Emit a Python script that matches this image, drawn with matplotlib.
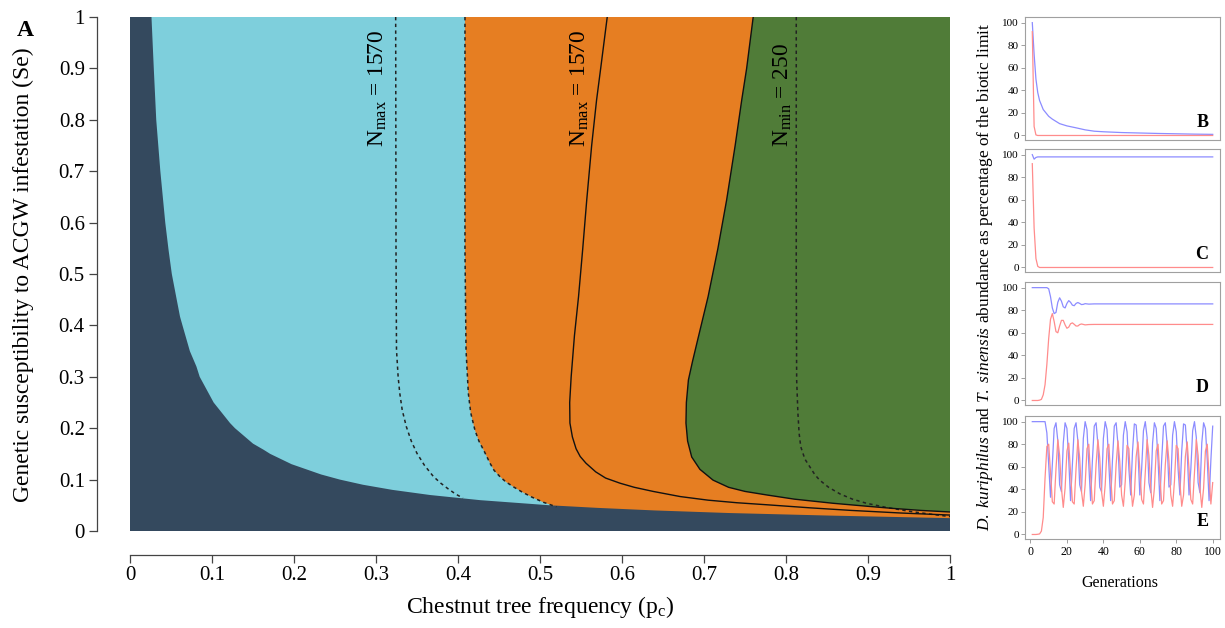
import matplotlib
matplotlib.use('Agg')
import matplotlib.pyplot as plt

plt.rcParams['font.family'] = 'Liberation Serif'
plt.rcParams['mathtext.fontset'] = 'custom'
plt.rcParams['mathtext.rm'] = 'Liberation Serif'
plt.rcParams['mathtext.it'] = 'Liberation Serif:italic'
plt.rcParams['mathtext.bf'] = 'Liberation Serif:bold'

# ---- panel A: region boundaries (pc, Se) ----
dark_x = [0.0262, 0.029, 0.032, 0.037, 0.043, 0.047, 0.051, 0.057, 0.061, 0.064, 0.073,
          0.081, 0.085, 0.102, 0.122, 0.128, 0.150, 0.163, 0.171, 0.197, 0.233, 0.256,
          0.284, 0.320, 0.366, 0.427, 0.512, 0.570, 0.640, 0.730, 0.853, 1.000]
dark_y = [1.000, 0.900, 0.800, 0.700, 0.600, 0.547, 0.500, 0.450, 0.417, 0.400, 0.350,
          0.320, 0.300, 0.250, 0.210, 0.200, 0.170, 0.158, 0.150, 0.130, 0.110, 0.100,
          0.090, 0.080, 0.070, 0.060, 0.050, 0.045, 0.040, 0.035, 0.030, 0.025]

# dashed boundary light blue / orange
blue_x = [0.4085, 0.4085, 0.4098, 0.4126, 0.4155, 0.4207, 0.4255, 0.432, 0.439, 0.444,
          0.451, 0.458, 0.4675, 0.478, 0.490, 0.504, 0.520]
blue_y = [1.000, 0.547, 0.352, 0.268, 0.230, 0.196, 0.175, 0.155, 0.132, 0.118,
          0.106, 0.096, 0.086, 0.076, 0.066, 0.056, 0.047]

# dashed N_max = 1570 inside light blue
nmax_d_x = [0.324, 0.3244, 0.325, 0.327, 0.329, 0.332, 0.337, 0.343, 0.350, 0.359,
            0.370, 0.379, 0.388, 0.397, 0.406]
nmax_d_y = [1.000, 0.547, 0.352, 0.300, 0.268, 0.235, 0.203, 0.175, 0.151, 0.128,
            0.106, 0.093, 0.082, 0.072, 0.064]

# solid N_max = 1570 inside orange
nmax_s_x = [0.582, 0.574, 0.569, 0.563, 0.557, 0.552, 0.547, 0.542, 0.538, 0.5362,
            0.5365, 0.5395, 0.544, 0.549, 0.556, 0.568, 0.580, 0.5976, 0.615, 0.638,
            0.671, 0.705, 0.740, 0.777, 0.830, 0.880, 0.940, 1.000]
nmax_s_y = [1.000, 0.900, 0.8385, 0.750, 0.644, 0.547, 0.456, 0.380, 0.300, 0.250,
            0.210, 0.183, 0.160, 0.145, 0.132, 0.115, 0.103, 0.093, 0.085, 0.077,
            0.067, 0.060, 0.055, 0.051, 0.045, 0.040, 0.035, 0.031]

# solid boundary orange / green
green_x = [0.760, 0.752, 0.746, 0.738, 0.7276, 0.717, 0.705, 0.692, 0.686, 0.681,
           0.6785, 0.678, 0.680, 0.685, 0.695, 0.711, 0.730, 0.750, 0.777, 0.810,
           0.857, 0.900, 0.930, 0.965, 1.000]
green_y = [1.000, 0.900, 0.8385, 0.750, 0.644, 0.550, 0.456, 0.370, 0.330, 0.294,
           0.250, 0.210, 0.175, 0.144, 0.120, 0.099, 0.085, 0.077, 0.070, 0.062,
           0.054, 0.048, 0.044, 0.040, 0.037]

# dashed N_min = 250 inside green
nmin_x = [0.8125, 0.8125, 0.813, 0.8145, 0.816, 0.818, 0.823, 0.829, 0.835, 0.841,
          0.852, 0.866, 0.881, 0.898, 0.922, 0.952, 0.975, 1.000]
nmin_y = [1.000, 0.500, 0.294, 0.230, 0.190, 0.164, 0.140, 0.125, 0.110, 0.099,
          0.085, 0.072, 0.062, 0.054, 0.046, 0.038, 0.033, 0.028]

x_ticks = [0, 0.1, 0.2, 0.3, 0.4, 0.5, 0.6, 0.7, 0.8, 0.9, 1]
x_labels = ['0', '0.1', '0.2', '0.3', '0.4', '0.5', '0.6', '0.7', '0.8', '0.9', '1']
y_ticks = [0, 0.1, 0.2, 0.3, 0.4, 0.5, 0.6, 0.7, 0.8, 0.9, 1]
y_labels = ['0', '0.1', '0.2', '0.3', '0.4', '0.5', '0.6', '0.7', '0.8', '0.9', '1']

# ---- panels B-E: abundance (% of biotic limit) per generation ----
gen_B = [1, 2, 3, 4, 5, 6, 7, 8, 9, 10, 12, 14, 16, 18, 20, 25, 30, 35, 40, 50, 60, 70, 80, 90, 100]
host_B = [100, 72, 50, 38, 31, 27, 23, 21, 19, 17, 14.5, 12.5, 10.5, 9.5, 8.5, 6.8, 5.0, 3.8,
          3.3, 2.6, 2.2, 1.8, 1.5, 1.2, 1.0]
para_B = [92, 8, 0.5, 0, 0, 0, 0, 0, 0, 0, 0, 0, 0, 0, 0, 0, 0, 0, 0, 0, 0, 0, 0, 0, 0]

gen_C = [1, 2, 3, 4, 5, 10, 50, 100]
host_C = [100, 96, 97.5, 98, 98, 98, 98, 98]
para_C = [92, 35, 8, 1, 0, 0, 0, 0]

gen_D = [1, 2, 3, 4, 5, 6, 7, 8, 9, 10, 11, 12, 13, 14, 15, 16, 17, 18, 19, 20, 21, 22, 23,
         24, 25, 26, 27, 28, 29, 30, 32, 35, 100]
host_D = [100, 100, 100, 100, 100, 100, 100, 100, 100, 99, 92, 82, 77, 78, 87, 91, 88, 83,
          82, 86, 88.5, 87, 84.5, 84, 86, 86.8, 86, 85, 85.2, 85.8, 85.4, 85.6, 85.6]
para_D = [0, 0, 0, 0, 0.3, 1, 5, 14, 32, 55, 72, 77, 70, 61, 60, 66, 71, 71, 67, 64, 65,
          68, 68.8, 67.5, 66, 66, 67.3, 67.8, 67.4, 67, 67.3, 67.4, 67.4]

gen_E = list(range(1, 101))
host_E = [100, 100, 100, 100, 100, 100, 100, 100, 90, 62,
          33, 62, 94, 99, 83, 44, 38, 81, 99, 94,
          66, 30, 62, 94, 99, 83, 44, 38, 85, 100,
          93, 62, 30, 66, 96, 99, 80, 42, 38, 85,
          100, 93, 62, 30, 66, 96, 99, 80, 42, 44,
          88, 100, 91, 58, 35, 74, 98, 97, 73, 35,
          58, 92, 100, 86, 46, 37, 81, 99, 94, 66,
          30, 66, 96, 99, 80, 42, 44, 88, 100, 91,
          58, 35, 74, 98, 97, 73, 35, 58, 92, 100,
          86, 46, 37, 81, 99, 94, 66, 30, 66, 96]
para_E = [0, 0, 0, 0.2, 0.5, 3, 15, 50, 78, 80,
          55, 29, 27, 58, 84, 70, 41, 24, 41, 74,
          81, 55, 29, 27, 58, 84, 68, 38, 25, 44,
          76, 80, 52, 27, 30, 62, 84, 68, 38, 25,
          44, 76, 80, 52, 27, 30, 62, 83, 65, 35,
          25, 47, 79, 76, 46, 25, 35, 69, 82, 58,
          31, 27, 55, 84, 70, 41, 24, 41, 74, 80,
          52, 27, 30, 62, 83, 65, 35, 25, 47, 79,
          76, 46, 25, 35, 69, 82, 58, 31, 27, 55,
          84, 70, 41, 24, 41, 74, 80, 52, 27, 46]

small_ticks = [0, 20, 40, 60, 80, 100]

c_dark = '#34495e'
c_lblue = '#7ecfdc'
c_orange = '#e67e22'
c_green = '#507c38'
c_host = '#8c8cff'
c_para = '#ff8c8c'

fig = plt.figure(figsize=(12.25, 6.28), dpi=100)

# ---------------- panel A ----------------
ax = fig.add_axes([130/1225, 1-531/628, 820/1225, 514/628])
ax.fill([0, 1, 1, 0], [0, 0, 1, 1], facecolor=c_orange, edgecolor='none')
ax.fill([0] + blue_x + [blue_x[-1], 0], [1] + blue_y + [0, 0], facecolor=c_lblue, edgecolor='none')
ax.fill(green_x + [1], green_y + [1], facecolor=c_green, edgecolor='none')
ax.fill([0] + dark_x + [1, 0], [1] + dark_y + [0, 0], facecolor=c_dark, edgecolor='none')

dash = (0, (2.2, 2.2))
ax.plot(blue_x, blue_y, color='#222222', lw=1.1, ls=dash)
ax.plot(nmax_d_x, nmax_d_y, color='#222222', lw=1.1, ls=dash)
ax.plot(nmin_x, nmin_y, color='#222222', lw=1.1, ls=dash)
ax.plot(nmax_s_x, nmax_s_y, color='#111111', lw=1.0)
ax.plot(green_x, green_y, color='#111111', lw=1.0)

ax.set_xlim(0, 1)
ax.set_ylim(0, 1)
for s in ['top', 'right']:
    ax.spines[s].set_visible(False)
ax.spines['left'].set_position(('outward', 24))
ax.spines['bottom'].set_position(('outward', 17))
ax.spines['left'].set_bounds(0, 1)
ax.spines['bottom'].set_bounds(0, 1)
for s in ['left', 'bottom']:
    ax.spines[s].set_color('#444444')
    ax.spines[s].set_linewidth(0.9)
ax.set_xticks(x_ticks)
ax.set_xticklabels(x_labels)
ax.set_yticks(y_ticks)
ax.set_yticklabels(y_labels)
ax.tick_params(length=5.5, width=0.9, color='#444444', labelsize=15, pad=3)

ax.text(0.302, 0.747, r'N$_{\mathrm{max}}$ = 1570', rotation=90, ha='center', va='bottom', fontsize=16.8)
ax.text(0.548, 0.747, r'N$_{\mathrm{max}}$ = 1570', rotation=90, ha='center', va='bottom', fontsize=16.8)
ax.text(0.796, 0.747, r'N$_{\mathrm{min}}$ = 250', rotation=90, ha='center', va='bottom', fontsize=16.8)

fig.text(23/1225, 1-275/628, 'Genetic susceptibility to ACGW infestation (Se)',
         rotation=90, ha='center', va='center', fontsize=16.9)
fig.text(540/1225, 1-607/628, r'Chestnut tree frequency (p$_{\mathrm{c}}$)',
         ha='center', va='center', fontsize=17)
fig.text(25/1225, 1-31/628, 'A', ha='center', va='center', fontsize=17, fontweight='bold')

# ---------------- panels B-E ----------------
panels = [
    ('B', 17, gen_B, host_B, para_B),
    ('C', 149, gen_C, host_C, para_C),
    ('D', 282, gen_D, host_D, para_D),
    ('E', 416, gen_E, host_E, para_E),
]
for letter, top, gx, host, para in panels:
    a = fig.add_axes([1025/1225, 1-(top+123)/628, 195/1225, 123/628])
    a.plot(gx, host, color=c_host, lw=0.9)
    a.plot(gx, para, color=c_para, lw=0.9)
    a.set_xlim(-3, 104)
    a.set_ylim(-4, 105)
    for s in a.spines.values():
        s.set_color('#a0a0a0')
        s.set_linewidth(0.8)
    a.set_yticks(small_ticks)
    a.tick_params(axis='y', length=3, width=0.7, color='#a0a0a0', labelsize=8, pad=1.5)
    if letter == 'E':
        a.set_xticks(small_ticks)
        a.tick_params(axis='x', length=3, width=0.7, color='#a0a0a0', labelsize=8.5, pad=2)
    else:
        a.set_xticks([])
    a.text(0.94, 0.105, letter, transform=a.transAxes, ha='right', va='baseline',
           fontsize=13, fontweight='bold')

fig.text(985/1225, 1-277/628,
         r'$\mathit{D.\ kuriphilus}$ and $\mathit{T.\ sinensis}$ abundance as percentage of the biotic limit',
         rotation=90, ha='center', va='center', fontsize=12.5)
fig.text(1120/1225, 1-583/628, 'Generations', ha='center', va='center', fontsize=11.5)

fig.savefig('out.png', dpi=100)
